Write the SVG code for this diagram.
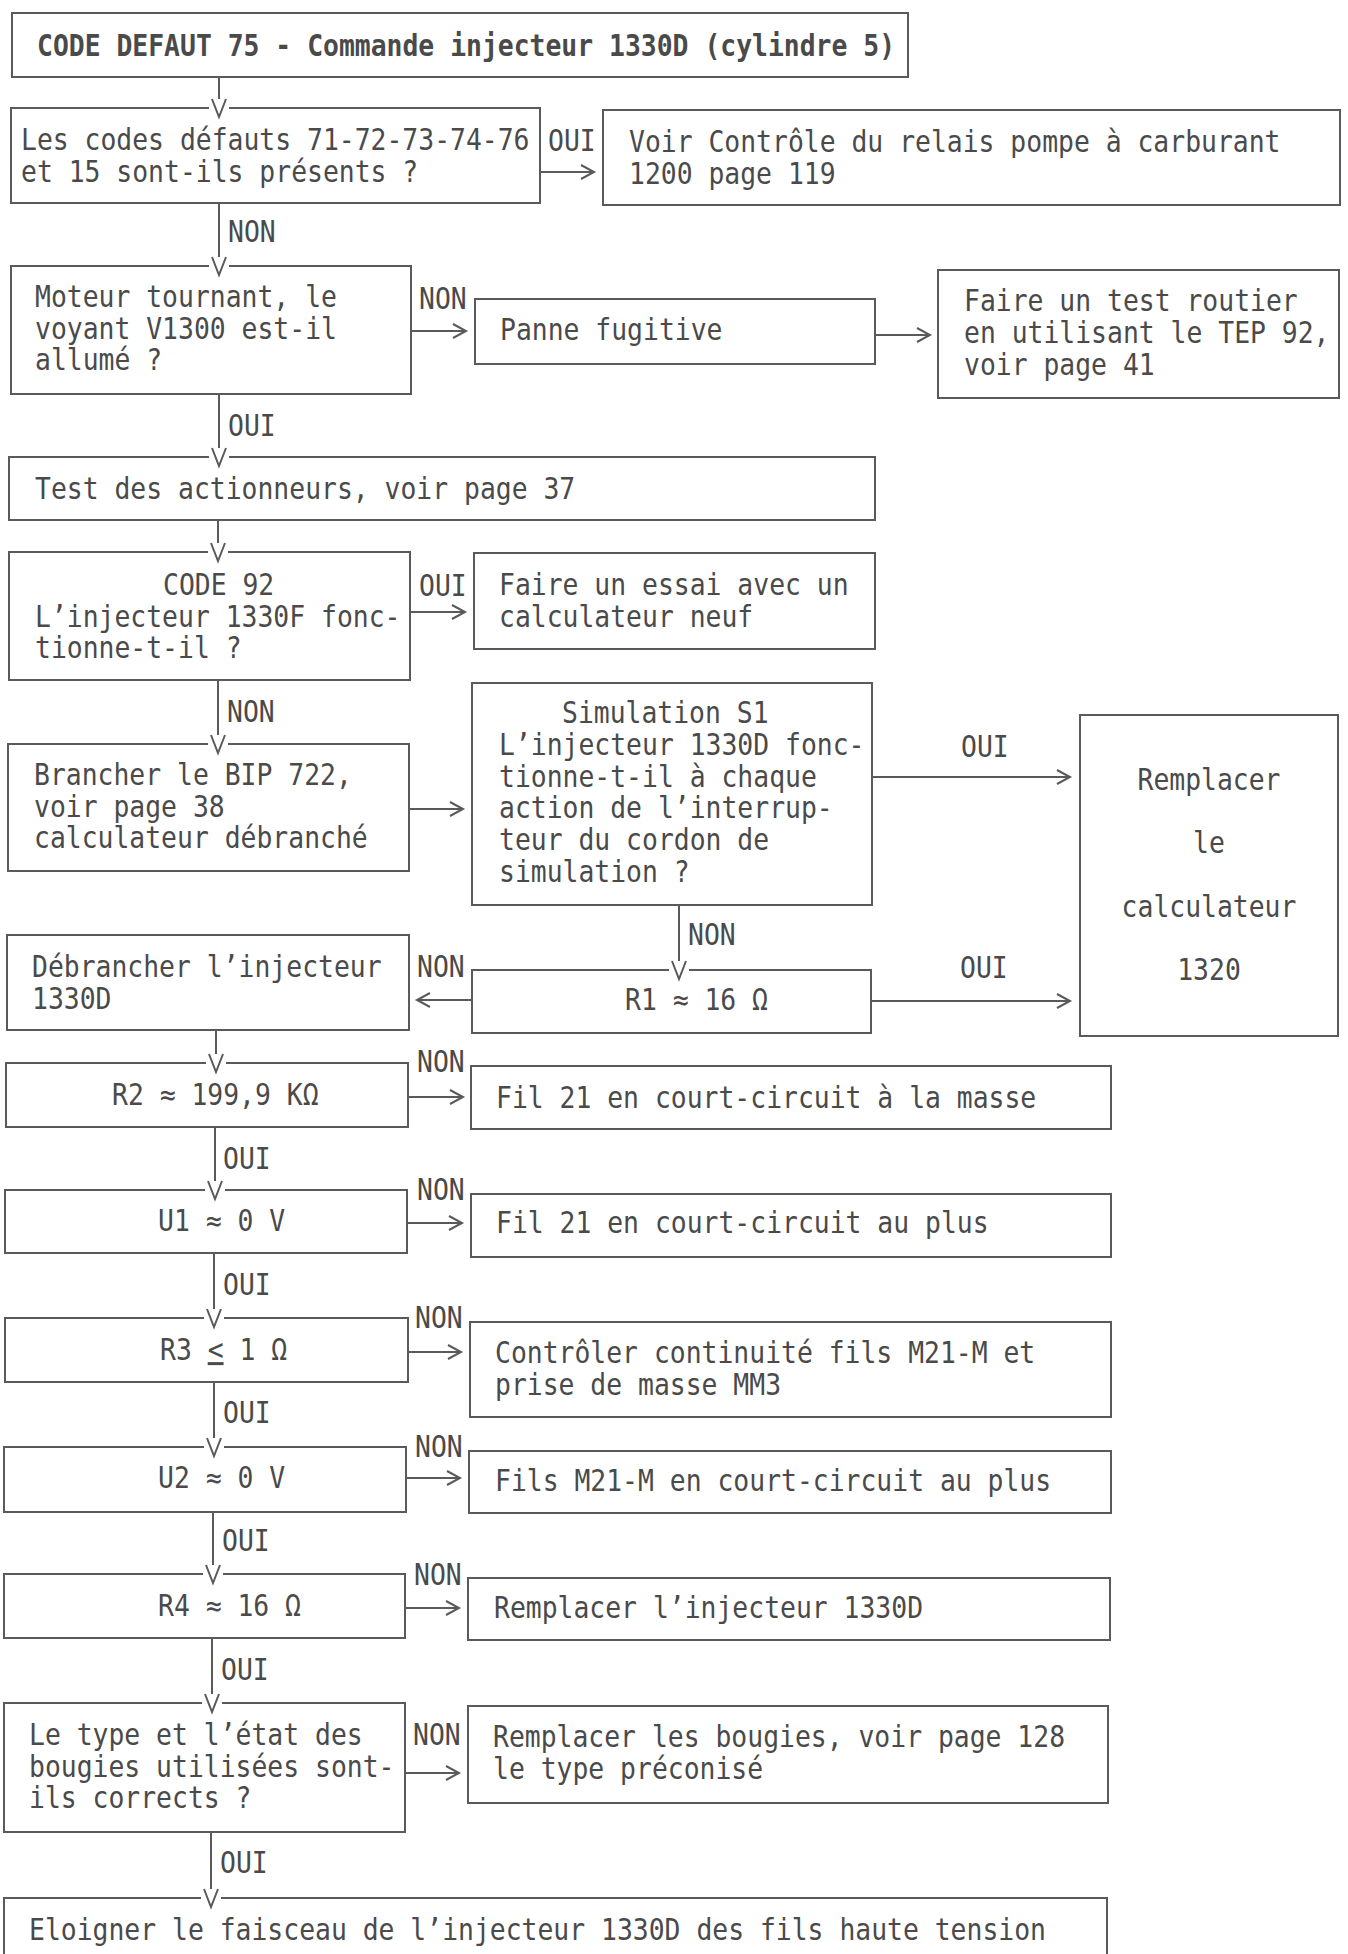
<svg xmlns="http://www.w3.org/2000/svg" width="1348" height="1954" viewBox="0 0 1348 1954">
<style>
.b{fill:none;stroke:#5a5a5a;stroke-width:2}
.t{font-family:"DejaVu Sans Mono","Liberation Mono",monospace;font-size:30px;fill:#4a4a4a}
.tb{font-weight:bold}
.c{fill:none;stroke:#5a5a5a;stroke-width:2}
.v{marker-end:url(#mv)}
.h{marker-end:url(#mh)}
</style>
<defs>
<marker id="mh" markerUnits="userSpaceOnUse" viewBox="-16 -10 20 20" markerWidth="20" markerHeight="20" refX="0" refY="0" orient="auto" overflow="visible">
<path d="M-13,-7 L0,0 L-13,7" fill="none" stroke="#5a5a5a" stroke-width="2"/>
</marker>
<marker id="mv" markerUnits="userSpaceOnUse" viewBox="-2 -10 20 20" markerWidth="20" markerHeight="20" refX="0" refY="0" orient="auto" overflow="visible">
<rect x="4" y="-10" width="10" height="20" fill="#ffffff"/>
<path d="M0,-7 L18,0 L0,7" fill="none" stroke="#5a5a5a" stroke-width="2"/>
</marker>
</defs>
<rect width="1348" height="1954" fill="#ffffff"/>

<g id="n1"><rect class="b" x="12" y="13" width="896" height="64"/>
<text class="t tb" transform="translate(37,56) scale(.88,1)">CODE DEFAUT 75 - Commande injecteur 1330D (cylindre 5)</text></g>

<g id="n2"><rect class="b" x="11" y="108" width="529" height="95"/>
<text class="t" transform="translate(21,150) scale(.88,1)"><tspan x="0">Les codes défauts 71-72-73-74-76</tspan><tspan x="0" dy="31.6">et 15 sont-ils présents ?</tspan></text></g>

<g id="n3"><rect class="b" x="603" y="110" width="737" height="95"/>
<text class="t" transform="translate(629,152) scale(.88,1)"><tspan x="0">Voir Contrôle du relais pompe à carburant</tspan><tspan x="0" dy="31.6">1200 page 119</tspan></text></g>

<g id="n4"><rect class="b" x="11" y="266" width="400" height="128"/>
<text class="t" transform="translate(35,307) scale(.88,1)"><tspan x="0">Moteur tournant, le</tspan><tspan x="0" dy="31.6">voyant V1300 est-il</tspan><tspan x="0" dy="31.6">allumé ?</tspan></text></g>

<g id="n5"><rect class="b" x="475" y="299" width="400" height="65"/>
<text class="t" transform="translate(500,340) scale(.88,1)">Panne fugitive</text></g>

<g id="n6"><rect class="b" x="938" y="270" width="401" height="128"/>
<text class="t" transform="translate(964,311) scale(.88,1)"><tspan x="0">Faire un test routier</tspan><tspan x="0" dy="32">en utilisant le TEP 92,</tspan><tspan x="0" dy="32">voir page 41</tspan></text></g>

<g id="n7"><rect class="b" x="9" y="457" width="866" height="63"/>
<text class="t" transform="translate(35,499) scale(.88,1)">Test des actionneurs, voir page 37</text></g>

<g id="n8"><rect class="b" x="9" y="552" width="401" height="128"/>
<text class="t" transform="translate(163,595) scale(.88,1)">CODE 92</text>
<text class="t" transform="translate(35,626.6) scale(.88,1)"><tspan x="0">L’injecteur 1330F fonc-</tspan><tspan x="0" dy="31.6">tionne-t-il ?</tspan></text></g>

<g id="n9"><rect class="b" x="474" y="553" width="401" height="96"/>
<text class="t" transform="translate(499,595) scale(.88,1)"><tspan x="0">Faire un essai avec un</tspan><tspan x="0" dy="31.6">calculateur neuf</tspan></text></g>

<g id="n10"><rect class="b" x="8" y="744" width="401" height="127"/>
<text class="t" transform="translate(34,785) scale(.88,1)"><tspan x="0">Brancher le BIP 722,</tspan><tspan x="0" dy="31.6">voir page 38</tspan><tspan x="0" dy="31.6">calculateur débranché</tspan></text></g>

<g id="n11"><rect class="b" x="472" y="683" width="400" height="222"/>
<text class="t" transform="translate(562,723) scale(.88,1)">Simulation S1</text>
<text class="t" transform="translate(499,755) scale(.88,1)"><tspan x="0">L’injecteur 1330D fonc-</tspan><tspan x="0" dy="31.7">tionne-t-il à chaque</tspan><tspan x="0" dy="31.7">action de l’interrup-</tspan><tspan x="0" dy="31.7">teur du cordon de</tspan><tspan x="0" dy="31.7">simulation ?</tspan></text></g>

<g id="n12"><rect class="b" x="472" y="970" width="399" height="63"/>
<text class="t" transform="translate(625,1010) scale(.88,1)">R1 ≈ 16 Ω</text></g>

<g id="n13"><rect class="b" x="1080" y="715" width="258" height="321"/>
<text class="t" text-anchor="middle" transform="translate(1209,790) scale(.88,1)"><tspan x="0">Remplacer</tspan><tspan x="0" dy="63.3">le</tspan><tspan x="0" dy="63.3">calculateur</tspan><tspan x="0" dy="63.3">1320</tspan></text></g>

<g id="n14"><rect class="b" x="7" y="935" width="402" height="95"/>
<text class="t" transform="translate(32,977) scale(.88,1)"><tspan x="0">Débrancher l’injecteur</tspan><tspan x="0" dy="31.6">1330D</tspan></text></g>

<g id="n15"><rect class="b" x="6" y="1063" width="402" height="64"/>
<text class="t" transform="translate(112,1105) scale(.88,1)">R2 ≈ 199,9 KΩ</text></g>

<g id="n16"><rect class="b" x="471" y="1066" width="640" height="63"/>
<text class="t" transform="translate(496,1108) scale(.88,1)">Fil 21 en court-circuit à la masse</text></g>

<g id="n17"><rect class="b" x="5" y="1190" width="402" height="63"/>
<text class="t" transform="translate(158,1231) scale(.88,1)">U1 ≈ 0 V</text></g>

<g id="n18"><rect class="b" x="471" y="1194" width="640" height="63"/>
<text class="t" transform="translate(496,1233) scale(.88,1)">Fil 21 en court-circuit au plus</text></g>

<g id="n19"><rect class="b" x="5" y="1318" width="403" height="64"/>
<text class="t" transform="translate(160,1360) scale(.88,1)">R3 <tspan style="text-decoration:underline">&lt;</tspan> 1 Ω</text></g>

<g id="n20"><rect class="b" x="470" y="1322" width="641" height="95"/>
<text class="t" transform="translate(495,1363) scale(.88,1)"><tspan x="0">Contrôler continuité fils M21-M et</tspan><tspan x="0" dy="32">prise de masse MM3</tspan></text></g>

<g id="n21"><rect class="b" x="4" y="1447" width="402" height="65"/>
<text class="t" transform="translate(158,1488) scale(.88,1)">U2 ≈ 0 V</text></g>

<g id="n22"><rect class="b" x="469" y="1451" width="642" height="62"/>
<text class="t" transform="translate(495,1491) scale(.88,1)">Fils M21-M en court-circuit au plus</text></g>

<g id="n23"><rect class="b" x="4" y="1574" width="401" height="64"/>
<text class="t" transform="translate(158,1616) scale(.88,1)">R4 ≈ 16 Ω</text></g>

<g id="n24"><rect class="b" x="468" y="1578" width="642" height="62"/>
<text class="t" transform="translate(494,1618) scale(.88,1)">Remplacer l’injecteur 1330D</text></g>

<g id="n25"><rect class="b" x="4" y="1703" width="401" height="129"/>
<text class="t" transform="translate(29,1745) scale(.88,1)"><tspan x="0">Le type et l’état des</tspan><tspan x="0" dy="31.6">bougies utilisées sont-</tspan><tspan x="0" dy="31.6">ils corrects ?</tspan></text></g>

<g id="n26"><rect class="b" x="468" y="1706" width="640" height="97"/>
<text class="t" transform="translate(493,1747) scale(.88,1)"><tspan x="0">Remplacer les bougies, voir page 128</tspan><tspan x="0" dy="32">le type préconisé</tspan></text></g>

<g id="n27"><rect class="b" x="4" y="1898" width="1103" height="100"/>
<text class="t" transform="translate(29,1940) scale(.88,1)">Eloigner le faisceau de l’injecteur 1330D des fils haute tension</text></g>

<g id="connectors">
<path class="c v" d="M219,77 V99"/>
<path class="c v" d="M219,203 V257"/>
<path class="c v" d="M219,394 V448"/>
<path class="c v" d="M218,520 V543"/>
<path class="c v" d="M218,680 V735"/>
<path class="c v" d="M679,905 V961"/>
<path class="c v" d="M216,1030 V1054"/>
<path class="c v" d="M215,1127 V1181"/>
<path class="c v" d="M214,1253 V1309"/>
<path class="c v" d="M214,1382 V1438"/>
<path class="c v" d="M213,1512 V1565"/>
<path class="c v" d="M212,1638 V1694"/>
<path class="c v" d="M211,1832 V1889"/>

<path class="c h" d="M540,172 H594"/>
<path class="c h" d="M411,331 H466"/>
<path class="c h" d="M875,335 H930"/>
<path class="c h" d="M410,612 H465"/>
<path class="c h" d="M410,809 H463"/>
<path class="c h" d="M872,777 H1070"/>
<path class="c h" d="M871,1001 H1070"/>
<path class="c h" d="M472,1000 H417"/>
<path class="c h" d="M408,1097 H463"/>
<path class="c h" d="M407,1223 H462"/>
<path class="c h" d="M408,1352 H461"/>
<path class="c h" d="M406,1478 H460"/>
<path class="c h" d="M405,1608 H459"/>
<path class="c h" d="M405,1773 H459"/>

<g class="t">
<text transform="translate(548,151) scale(.88,1)">OUI</text>
<text transform="translate(228,242) scale(.88,1)">NON</text>
<text transform="translate(419,309) scale(.88,1)">NON</text>
<text transform="translate(228,436) scale(.88,1)">OUI</text>
<text transform="translate(419,596) scale(.88,1)">OUI</text>
<text transform="translate(227,722) scale(.88,1)">NON</text>
<text transform="translate(961,757) scale(.88,1)">OUI</text>
<text transform="translate(688,945) scale(.88,1)">NON</text>
<text transform="translate(960,978) scale(.88,1)">OUI</text>
<text transform="translate(417,977) scale(.88,1)">NON</text>
<text transform="translate(417,1072) scale(.88,1)">NON</text>
<text transform="translate(223,1169) scale(.88,1)">OUI</text>
<text transform="translate(417,1200) scale(.88,1)">NON</text>
<text transform="translate(223,1295) scale(.88,1)">OUI</text>
<text transform="translate(415,1328) scale(.88,1)">NON</text>
<text transform="translate(223,1423) scale(.88,1)">OUI</text>
<text transform="translate(415,1457) scale(.88,1)">NON</text>
<text transform="translate(222,1551) scale(.88,1)">OUI</text>
<text transform="translate(414,1585) scale(.88,1)">NON</text>
<text transform="translate(221,1680) scale(.88,1)">OUI</text>
<text transform="translate(413,1745) scale(.88,1)">NON</text>
<text transform="translate(220,1873) scale(.88,1)">OUI</text>
</g>
</g>
</svg>
